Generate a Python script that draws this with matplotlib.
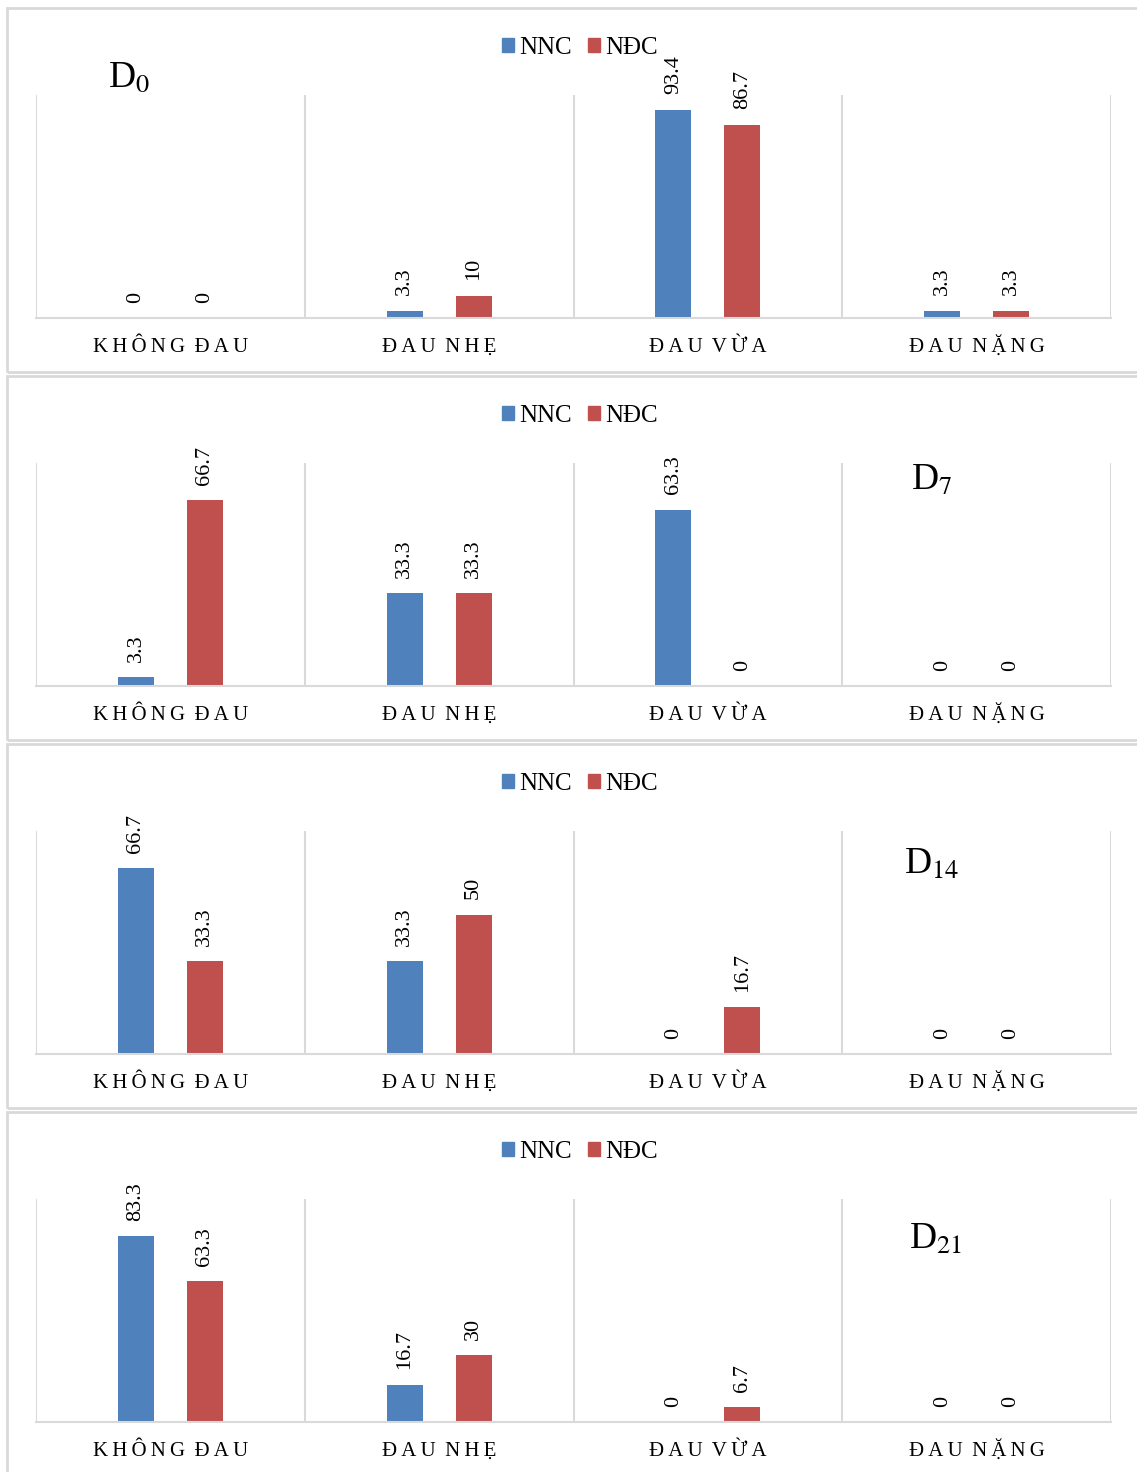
import matplotlib.pyplot as plt
import numpy as np
from matplotlib.patches import Rectangle, Patch

plt.rcParams['font.family'] = ['Liberation Serif', 'DejaVu Serif']
plt.rcParams['mathtext.fontset'] = 'stix'

categories = ["KHÔNG ĐAU", "ĐAU NHẸ", "ĐAU VỪA", "ĐAU NẶNG"]
days = ["0", "7", "14", "21"]
nnc = [
    [0, 3.3, 93.4, 3.3],
    [3.3, 33.3, 63.3, 0],
    [66.7, 33.3, 0, 0],
    [83.3, 16.7, 0, 0],
]
ndc = [
    [0, 10, 86.7, 3.3],
    [66.7, 33.3, 0, 0],
    [33.3, 50, 16.7, 0],
    [63.3, 30, 6.7, 0],
]
ymax = [100, 80, 80, 100]

BLUE = '#4F81BD'
RED = '#C0504D'
GRID = '#D9D9D9'

W, H = 1137, 1472
fig = plt.figure(figsize=(W / 100, H / 100), dpi=100)

# where the day tag sits inside each panel (axes fraction)
tag_pos = [(0.067, 1.076), (0.814, 0.919), (0.807, 0.848), (0.812, 0.816)]


def spaced(s):
    # fake letter spacing with thin spaces inside each word
    return "\u2009 ".join("\u2009".join(w) for w in s.split(" "))


for i in range(4):
    # panel frame
    top = 8 + i * 368
    fig.add_artist(Rectangle((7 / W, 1 - (top + 364) / H), 1.2, 364 / H,
                             transform=fig.transFigure, fill=False,
                             edgecolor=GRID, linewidth=2))

    base = 318 + i * 368
    ax = fig.add_axes([36 / W, 1 - base / H, 1075 / W, 223 / H])
    x = np.arange(len(categories))
    off = 0.128
    b1 = ax.bar(x - off, nnc[i], width=0.134, color=BLUE, label='NNC')
    b2 = ax.bar(x + off, ndc[i], width=0.134, color=RED, label='NĐC')
    for bars, vals in ((b1, nnc[i]), (b2, ndc[i])):
        for r, v in zip(bars, vals):
            ax.annotate(f"{v:g}", (r.get_x() + r.get_width() / 2, v),
                        xytext=(0, 11), textcoords='offset points',
                        rotation=90, ha='center', va='bottom', fontsize=16)

    ax.set_xlim(-0.5, len(categories) - 0.5)
    ax.set_ylim(0, ymax[i])
    ax.set_yticks([])
    ax.set_xticks(x)
    ax.set_xticklabels([spaced(c) for c in categories], fontsize=15, va='baseline')
    ax.tick_params(axis='x', length=0, pad=24.5)
    for s in ('top', 'right', 'left'):
        ax.spines[s].set_visible(False)
    ax.spines['bottom'].set_color(GRID)
    ax.spines['bottom'].set_linewidth(1.5)
    for gx in np.arange(-0.5, len(categories), 1.0):
        ax.axvline(gx, color=GRID, linewidth=1.5, zorder=0)

    ax.legend(handles=[Patch(color=BLUE, label='NNC'), Patch(color=RED, label='NĐC')],
              loc='center', bbox_to_anchor=(0.506, 1.21), ncol=2, frameon=False,
              fontsize=18, handlelength=0.48, handleheight=0.48,
              handletextpad=0.2, columnspacing=0.65)

    tx, ty = tag_pos[i]
    ax.text(tx, ty, r"D$_{" + days[i] + "}$", transform=ax.transAxes,
            fontsize=27, ha='left', va='center')

fig.savefig('out.png', dpi=100)
